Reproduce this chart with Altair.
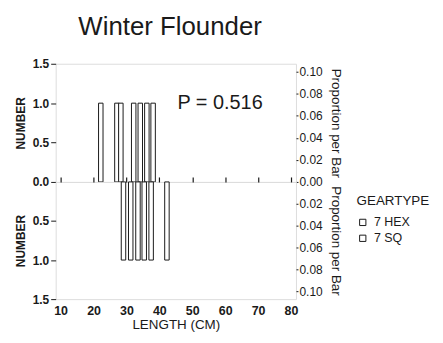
import altair as alt
import pandas as pd

GEARS = ["7 HEX", "7 SQ"]
HEX_LENGTH = [22.2, 27.1, 28.3, 32.2, 34.2, 36.2, 38.1]
HEX_NUMBER = [1, 1, 1, 1, 1, 1, 1]
SQ_LENGTH = [29.1, 31.3, 33.5, 35.4, 37.5, 42.3]
SQ_NUMBER = [1, 1, 1, 1, 1, 1]
TOTAL = 14
P_LABEL = ["P = 0.516"]
P_POS_LENGTH = [45.5]
P_POS_NUMBER = [1.0]
X_TICKS = [10, 20, 30, 40, 50, 60, 70, 80]
NUM_TICKS_TOP = [0.0, 0.5, 1.0, 1.5]
NUM_TICKS_BOTTOM = [0.5, 1.0, 1.5]
PROP_TICKS_TOP = [0.0, 0.02, 0.04, 0.06, 0.08, 0.10]
PROP_TICKS_BOTTOM = [0.02, 0.04, 0.06, 0.08, 0.10]

FONT = "Liberation Sans"
INK = "#1a1a1a"
W = 242

hex_df = pd.DataFrame({"LENGTH": HEX_LENGTH, "NUMBER": HEX_NUMBER, "GEARTYPE": GEARS[0]})
sq_df = pd.DataFrame({"LENGTH": SQ_LENGTH, "NUMBER": SQ_NUMBER, "GEARTYPE": GEARS[1]})
for d in (hex_df, sq_df):
    d["PROP"] = d["NUMBER"] / TOTAL
p_df = pd.DataFrame({"LENGTH": P_POS_LENGTH, "NUMBER": P_POS_NUMBER, "label": P_LABEL})

xscale = alt.Scale(domain=[10, 80], nice=False, zero=False)

stroke = alt.Stroke(
    "GEARTYPE:N",
    scale=alt.Scale(domain=GEARS, range=[INK, INK]),
    legend=alt.Legend(
        title="GEARTYPE", symbolType="square", symbolFillColor="white",
        symbolStrokeColor=INK, symbolSize=40, symbolStrokeWidth=1,
        orient="none", legendX=303, legendY=131,
        titleFont=FONT, titleFontSize=13.5, titleFontWeight="normal", titleColor=INK,
        titlePadding=9, labelFont=FONT, labelFontSize=12.5, labelColor=INK,
        rowPadding=3, labelOffset=5,
    ),
)


def panel(df, top):
    h = 119 if top else 118
    reverse = not top
    if top:
        xaxis = None
    else:
        xaxis = alt.Axis(values=X_TICKS, format="d", title="LENGTH (CM)", ticks=False,
                         labelFont=FONT, labelFontSize=12.5, labelFontWeight="bold", labelColor=INK,
                         labelPadding=5, titleFont=FONT, titleFontSize=13.5, titleFontWeight="normal",
                         titleColor=INK, titlePadding=1, domain=False, grid=False)
    yaxis = alt.Axis(values=NUM_TICKS_TOP if top else NUM_TICKS_BOTTOM, format=".1f", title="NUMBER",
                     labelFont=FONT, labelFontSize=12, labelFontWeight="bold", labelColor=INK,
                     tickSize=5, tickColor=INK, domain=False, grid=False, labelPadding=2,
                     titleFont=FONT, titleFontSize=12, titleFontWeight="bold", titleColor=INK,
                     titlePadding=5)
    bars = alt.Chart(df).mark_bar(fill="white", strokeWidth=1, size=4.5).encode(
        x=alt.X("LENGTH:Q", scale=xscale, axis=xaxis),
        y=alt.Y("NUMBER:Q", scale=alt.Scale(domain=[0, 1.5], reverse=reverse, nice=False), axis=yaxis),
        stroke=stroke,
    )
    paxis = alt.Axis(orient="right", values=PROP_TICKS_TOP if top else PROP_TICKS_BOTTOM, format=".2f",
                     title="Proportion per Bar", labelFont=FONT, labelFontSize=12, labelColor=INK,
                     tickSize=2, tickColor=INK, labelPadding=1, domain=False, grid=False,
                     titleFont=FONT, titleFontSize=13.5, titleFontWeight="normal", titleColor=INK,
                     titlePadding=6)
    prop = alt.Chart(df).mark_point(opacity=0).encode(
        x=alt.X("LENGTH:Q", scale=xscale, axis=None),
        y=alt.Y("PROP:Q", scale=alt.Scale(domain=[0, 1.5 / TOTAL], reverse=reverse, nice=False), axis=paxis),
    )
    layers = [bars, prop]
    if top:
        ptext = alt.Chart(p_df).mark_text(align="left", baseline="middle", font=FONT, fontSize=20,
                                           color=INK).encode(
            x=alt.X("LENGTH:Q", scale=xscale, axis=None),
            y=alt.Y("NUMBER:Q", scale=alt.Scale(domain=[0, 1.5], nice=False), axis=None),
            text="label:N",
        )
        layers.append(ptext)
    else:
        midticks = alt.Chart(df).mark_point(opacity=0).encode(
            x=alt.X("LENGTH:Q", scale=xscale,
                    axis=alt.Axis(orient="top", values=X_TICKS, labels=False, title=None, tickSize=5,
                                  tickColor=INK, tickWidth=1.2, domain=False, grid=False)),
        )
        layers.append(midticks)
    return alt.layer(*layers).resolve_scale(y="independent").resolve_axis(x="independent").properties(
        width=W, height=h)


chart = alt.vconcat(panel(hex_df, True), panel(sq_df, False), spacing=0, bounds="flush").properties(
    title=alt.TitleParams("Winter Flounder", font=FONT, fontSize=26, fontWeight="normal", color=INK,
                          anchor="start", dx=65, offset=17),
).configure_view(stroke=INK, strokeWidth=1.2).configure(background="white")

chart.save("out.html", embed_options={"renderer": "svg", "actions": False})
